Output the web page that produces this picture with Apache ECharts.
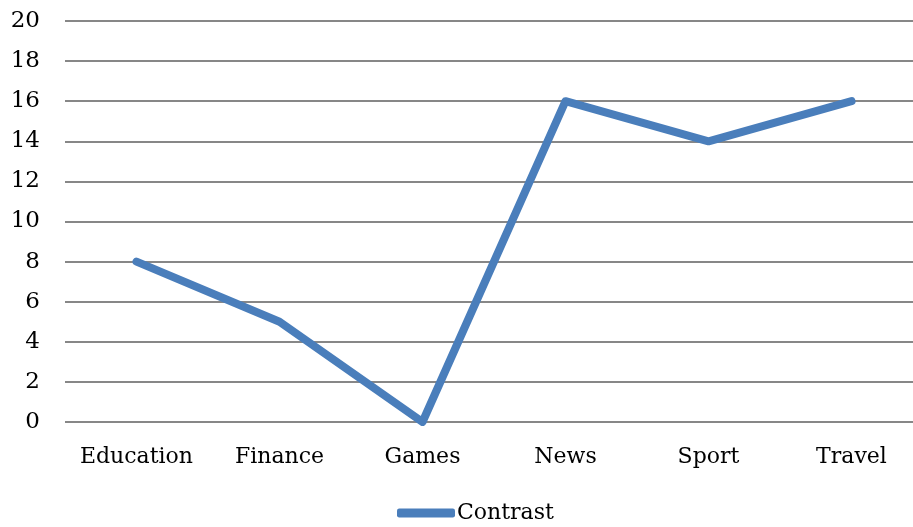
<!DOCTYPE html>
<html><head><meta charset="utf-8">
<script src="https://cdn.jsdelivr.net/npm/echarts@6/dist/echarts.min.js"></script>
<style>html,body{margin:0;padding:0;background:#fff;overflow:hidden}#c{width:923px;height:527px}</style>
</head><body><div id="c"></div>
<script>
const categories = ['Education','Finance','Games','News','Sport','Travel'];
const contrastValues = [8,5,0,16,14,16];
const seriesName = 'Contrast';
const FONT = 'DejaVu Serif';
const chart = echarts.init(document.getElementById('c'), null, {renderer:'canvas'});
chart.setOption({
  animation:false,
  backgroundColor:'#fff',
  grid:{left:65, top:21, right:0, bottom:105, containLabel:false},
  legend:{
    data:[{name:seriesName, icon:'roundRect'}],
    top:502, left:397, padding:0,
    itemWidth:58, itemHeight:9,
    textStyle:{fontFamily:FONT, fontSize:22, color:'#000', padding:[0,0,0,-3]}
  },
  xAxis:{
    type:'category', data:categories, boundaryGap:true,
    axisLine:{show:false}, axisTick:{show:false},
    axisLabel:{fontFamily:FONT, fontSize:22, color:'#000', margin:24, interval:0}
  },
  yAxis:{
    type:'value', min:0, max:20, interval:2,
    axisLine:{show:false}, axisTick:{show:false},
    axisLabel:{fontFamily:FONT, fontSize:23, color:'#000', margin:25},
    splitLine:{lineStyle:{color:'#878787', width:2}}
  },
  series:[{
    name:seriesName, type:'line', data:contrastValues,
    symbol:'none', color:'#4a7ebb',
    lineStyle:{width:8, color:'#4a7ebb', cap:'round', join:'round'}
  }]
});
</script></body></html>
